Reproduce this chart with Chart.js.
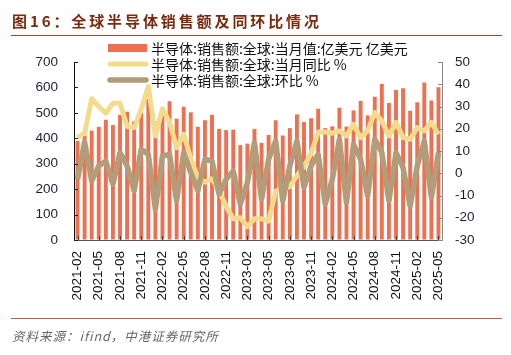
<!DOCTYPE html>
<html><head><meta charset="utf-8">
<script src="https://cdn.jsdelivr.net/npm/chart.js@4"></script>
<style>
html,body{margin:0;padding:0;background:#fff;}
#wrap{position:relative;width:511px;height:355px;overflow:hidden;}
#title{position:absolute;left:12px;top:11px;font:bold 15px "Noto Sans CJK SC";letter-spacing:2.9px;color:#7B2A0E;white-space:nowrap;line-height:20px;}
#tline{position:absolute;left:11px;top:35px;width:491px;height:1px;background:#B5402A;}
#fline{position:absolute;left:11px;top:318px;width:491px;height:1px;background:#C0603F;}
#foot{position:absolute;left:12px;top:327px;font:italic 12.5px "Noto Sans CJK SC";color:#666;letter-spacing:1px;line-height:18px;white-space:nowrap;}
canvas{position:absolute;left:0;top:0;}
</style></head>
<body><div id="wrap"><canvas id="c" width="511" height="355"></canvas>
<div id="title">图16：全球半导体销售额及同环比情况</div><div id="tline"></div><div id="fline"></div><div id="foot">资料来源：ifind，中港证券研究所</div></div>
<script>
const categories = [
 '2021-02','2021-03','2021-04','2021-05','2021-06','2021-07','2021-08','2021-09','2021-10','2021-11','2021-12',
 '2022-01','2022-02','2022-03','2022-04','2022-05','2022-06','2022-07','2022-08','2022-09','2022-10','2022-11','2022-12',
 '2023-01','2023-02','2023-03','2023-04','2023-05','2023-06','2023-07','2023-08','2023-09','2023-10','2023-11','2023-12',
 '2024-01','2024-02','2024-03','2024-04','2024-05','2024-06','2024-07','2024-08','2024-09','2024-10','2024-11','2024-12',
 '2025-01','2025-02','2025-03','2025-04','2025-05'];
const salesValues = [390,411,430,445,473,452,492,504,467,500,555,
 466,490,546,477,524,502,445,471,492,437,432,434,
 373,379,437,382,413,471,411,440,494,464,479,516,
 440,447,520,446,509,547,490,563,613,539,590,597,
 508,542,619,549,601];
const yoyValues = [16,18,33.5,30,27,31.5,31.5,21,20.5,28.8,39,
 16.8,29,23,11.5,17.5,6.5,-2,-4,-2.5,-8,-15,-20.5,
 -20,-24,-20.5,-20.5,-21.5,-8,-7,-6,-1,3,9,18.5,
 18.5,18,19,16.8,22,16,19,27.3,23.5,16.8,22.8,16,
 15.3,20.5,19,22.8,17.5];
const momValues = [-2.7,14,-3.4,3.3,5.5,-4.9,9.3,3.3,-7.9,10.8,8.5,
 -16.2,7.8,8.5,-12.4,9.3,0.3,-7.9,6.3,5.5,-9.4,-2.7,1,
 -13.9,-4.2,13.8,-11.7,6.3,14.5,-12.4,3.3,14.5,-6.4,3.3,8.5,
 -13.9,-2.7,15.3,-13.2,13,6.3,-10.2,15.3,9.3,-12.4,9.3,2.5,
 -14.7,3.3,14.5,-10.9,9.3];
const leftTickRange = [0, 700, 100];
const rightTickRange = [-30, 50, 10];
const seriesNames = ['半导体:销售额:全球:当月值:亿美元 亿美元','半导体:销售额:全球:当月同比 %','半导体:销售额:全球:环比 %'];

const BAR='#EE7050', YEL='#F2DC8C', BRN='#B29C7A';
const numFont = {family:'"Liberation Sans", Arial, sans-serif', size:13.5};

const legendPlugin = {
  id:'customLegend',
  afterDraw(chart){
    const ctx = chart.ctx;
    ctx.save();
    const rows=[48,64,80];
    ctx.fillStyle=BAR; ctx.fillRect(108,44,39,8);
    ctx.lineCap='round';
    ctx.strokeStyle=YEL; ctx.lineWidth=5; ctx.beginPath(); ctx.moveTo(110,rows[1]); ctx.lineTo(146,rows[1]); ctx.stroke();
    ctx.strokeStyle=BRN; ctx.lineWidth=5.5; ctx.beginPath(); ctx.moveTo(110,rows[2]); ctx.lineTo(146,rows[2]); ctx.stroke();
    ctx.fillStyle='#111'; ctx.font='14px "Noto Sans CJK SC"'; ctx.textBaseline='middle'; ctx.textAlign='left';
    seriesNames.forEach((t,i)=>ctx.fillText(t,151,rows[i]+0.5));
    ctx.restore();
  }
};
const tickPlugin = {
  id:'inTicks',
  afterDraw(chart){
    const ctx=chart.ctx, a=chart.chartArea;
    ctx.save(); ctx.lineWidth=1;
    const y=chart.scales.y, y1=chart.scales.y1, x=chart.scales.x;
    ctx.strokeStyle='#222';
    y.ticks.forEach(t=>{const p=Math.round(y.getPixelForValue(t.value))+0.5; ctx.beginPath(); ctx.moveTo(a.left,p); ctx.lineTo(a.left+4,p); ctx.stroke();});
    ctx.strokeStyle='#888';
    y1.ticks.forEach(t=>{const p=Math.round(y1.getPixelForValue(t.value))+0.5; ctx.beginPath(); ctx.moveTo(a.right-4,p); ctx.lineTo(a.right,p); ctx.stroke();});
    ctx.strokeStyle='#444';
    categories.forEach((c,i)=>{ if(i%3===0){const p=Math.round(x.getPixelForValue(i))+0.5; ctx.beginPath(); ctx.moveTo(p,a.bottom); ctx.lineTo(p,a.bottom-4); ctx.stroke();}});
    ctx.restore();
  }
};

new Chart(document.getElementById('c'), {
  type:'bar',
  data:{
    labels: categories,
    datasets:[
      {type:'line', label:seriesNames[2], data:momValues, yAxisID:'y1', borderColor:BRN, borderWidth:5.5, pointRadius:0, tension:0, order:1, borderJoinStyle:'round'},
      {type:'line', label:seriesNames[1], data:yoyValues, yAxisID:'y1', borderColor:YEL, borderWidth:5, pointRadius:0, tension:0, order:2, borderJoinStyle:'round'},
      {type:'bar', label:seriesNames[0], data:salesValues, yAxisID:'y', backgroundColor:BAR, barPercentage:0.55, categoryPercentage:1, order:3}
    ]
  },
  options:{
    responsive:false, devicePixelRatio:1, animation:false,
    layout:{padding:{top:62,left:0,right:0,bottom:0}},
    plugins:{legend:{display:false}, tooltip:{enabled:false}},
    scales:{
      x:{offset:true,
        grid:{display:true, drawOnChartArea:false, drawTicks:false},
        border:{display:true,color:'#555',width:1},
        ticks:{autoSkip:false, minRotation:90, maxRotation:90, padding:11, color:'#111', font:numFont,
          callback:function(v,i){return i%3===0?categories[i]:null;}},
        afterFit:s=>{s.height=115;}
      },
      y:{position:'left', min:leftTickRange[0], max:leftTickRange[1],
        grid:{display:true, drawOnChartArea:false, drawTicks:false},
        border:{display:true,color:'#111',width:1},
        ticks:{stepSize:leftTickRange[2], padding:16, color:'#1c1c3c', font:numFont},
        afterFit:s=>{s.width=74;}
      },
      y1:{position:'right', min:rightTickRange[0], max:rightTickRange[1],
        grid:{display:true, drawOnChartArea:false, drawTicks:false},
        border:{display:true,color:'#888',width:1},
        ticks:{stepSize:rightTickRange[2], padding:13, color:'#1c1c3c', font:numFont},
        afterFit:s=>{s.width=69;}
      }
    }
  },
  plugins:[tickPlugin, legendPlugin]
});
</script>
</body></html>
